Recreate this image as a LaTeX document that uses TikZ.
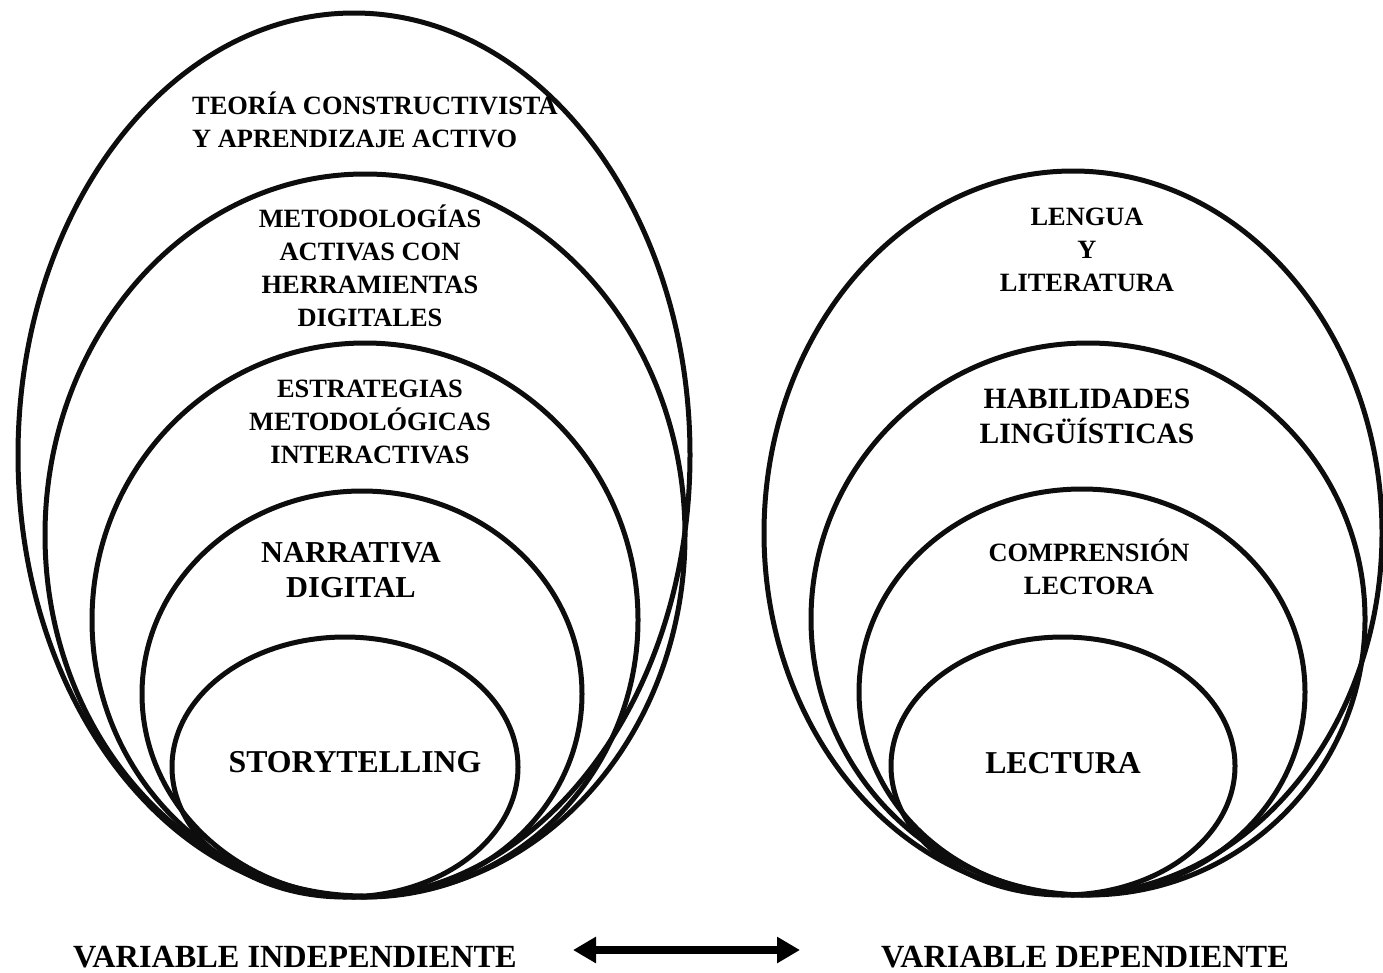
\documentclass[tikz,border=0pt]{standalone}
\usepackage{fontspec}
\setmainfont{Liberation Serif}
\usetikzlibrary{arrows.meta}
\begin{document}
\begin{tikzpicture}[x=1pt,y=-1pt,
  ring/.style={draw=black!95,line width=5pt},
  lbl/.style={font=\fontsize{26.4}{33}\selectfont\bfseries,align=center,inner sep=0pt},
  mid/.style={font=\fontsize{29.5}{35}\selectfont\bfseries,align=center,inner sep=0pt},
  big/.style={font=\fontsize{31.8}{36}\selectfont\bfseries,align=center,inner sep=0pt},
  var/.style={font=\fontsize{32.3}{36}\selectfont\bfseries,inner sep=0pt}]
\useasboundingbox (0,0) rectangle (1383,972);
% left group
\draw[ring] (354,455) ellipse [x radius=336, y radius=442];
\draw[ring] (365,535) ellipse [x radius=320, y radius=361];
\draw[ring] (365,620) ellipse [x radius=273, y radius=277];
\draw[ring] (362,694) ellipse [x radius=220, y radius=203];
\draw[ring] (345,767) ellipse [x radius=173, y radius=130];
% right group
\draw[ring] (1073,533) ellipse [x radius=309, y radius=362];
\draw[ring] (1088,619) ellipse [x radius=277, y radius=276];
\draw[ring] (1082,692) ellipse [x radius=223, y radius=203];
\draw[ring] (1063,766) ellipse [x radius=172, y radius=129];
% labels
\node[lbl,align=left,anchor=west] (teo) at (192,120) {TEORÍA CONSTRUCTIVISTA\\Y APRENDIZAJE ACTIVO};
\node[lbl] (met) at (370,266) {METODOLOGÍAS\\ACTIVAS CON\\HERRAMIENTAS\\DIGITALES};
\node[lbl] (est) at (370,422) {ESTRATEGIAS\\METODOLÓGICAS\\INTERACTIVAS};
\node[mid,font=\fontsize{30.4}{35}\selectfont\bfseries] (nar) at (351,570) {NARRATIVA\\DIGITAL};
\node[big] (sto) at (355,762) {STORYTELLING};
\node[lbl] (len) at (1087,250) {LENGUA\\Y\\LITERATURA};
\node[mid] (hab) at (1087,416) {HABILIDADES\\LINGÜÍSTICAS};
\node[lbl] (com) at (1089,567) {COMPRENSIÓN\\LECTORA};
\node[big] (lec) at (1063,763) {LECTURA};
\node[var] (vi) at (295,957) {VARIABLE INDEPENDIENTE};
\node[var] (vd) at (1085,957) {VARIABLE DEPENDIENTE};
\coordinate (a1) at (573,950);
\coordinate (a2) at (800,950);
\draw[line width=7.5pt,{Triangle[length=23pt,width=25pt]}-{Triangle[length=23pt,width=25pt]}] (a1) -- (a2);
\end{tikzpicture}
\end{document}
